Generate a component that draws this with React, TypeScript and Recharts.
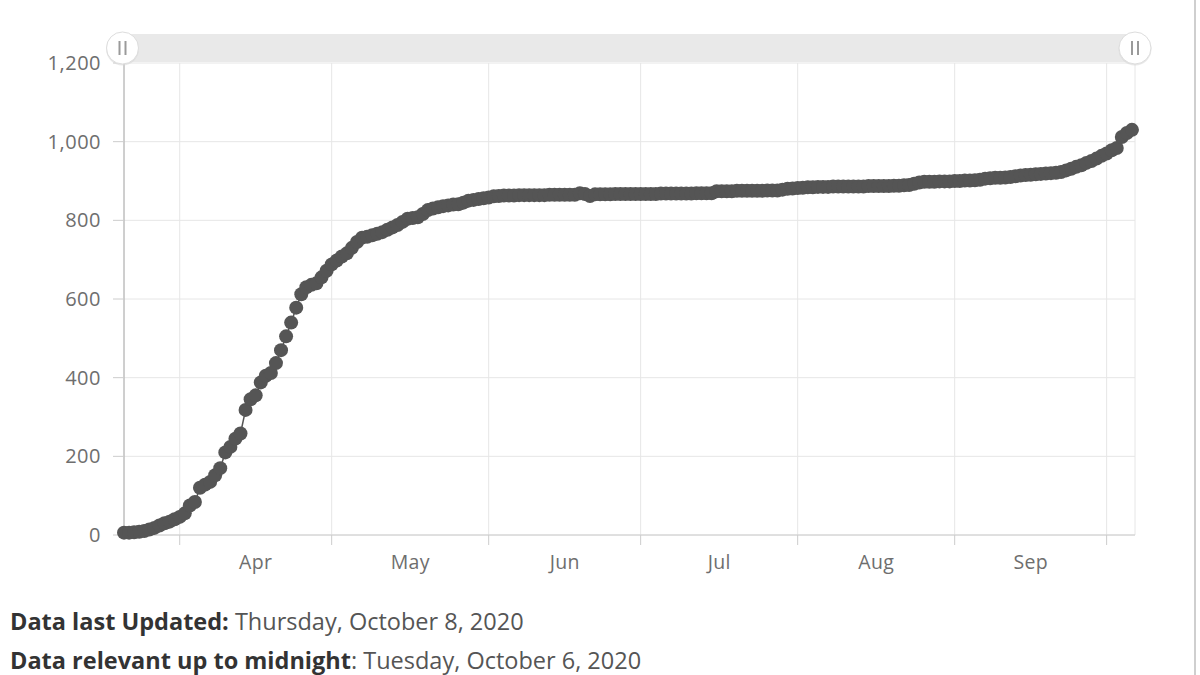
import React from "react";
import { LineChart, Line, XAxis, YAxis, CartesianGrid } from "recharts";

// day offsets are counted from Apr 1; the series starts on Mar 21
const firstDay = -11;

const marchValues = [6, 6, 7, 8, 10, 14, 18, 24, 30, 34, 40];
const aprilValues = [
  46, 55, 75, 84, 120, 128, 135, 152, 170, 210, 224, 245, 258, 318, 345,
  355, 388, 405, 412, 437, 470, 505, 540, 578, 612, 630, 636, 640, 655, 672,
];
const mayValues = [
  688, 698, 708, 716, 730, 745, 756, 758, 762, 766, 770, 776, 782, 788, 796,
  804, 806, 808, 816, 826, 830, 833, 836, 838, 840, 841, 845, 850, 852, 854, 856,
];
const juneValues = [
  858, 861, 862, 863, 863, 863, 864, 864, 864, 864, 864, 864, 865, 865, 865,
  865, 865, 865, 869, 867, 862, 866, 866, 866, 866, 867, 867, 867, 867, 867,
];
const julyValues = [
  867, 867, 867, 867, 868, 868, 868, 868, 868, 868, 868, 869, 869, 869, 869,
  874, 874, 874, 874, 875, 875, 875, 875, 875, 875, 876, 876, 876, 878, 880, 881,
];
const augustValues = [
  882, 883, 884, 884, 885, 885, 885, 886, 886, 886, 886, 886, 886, 886, 887,
  887, 887, 887, 887, 888, 888, 889, 890, 893, 896, 898, 898, 898, 899, 899, 899,
];
const septemberValues = [
  900, 900, 901, 901, 902, 903, 906, 907, 908, 908, 909, 910, 912, 914, 915,
  916, 917, 918, 919, 920, 921, 923, 927, 931, 936, 940, 946, 951, 957, 964,
];
const octoberValues = [970, 978, 984, 1012, 1022, 1030];

const monthStarts = [0, 30, 61, 91, 122, 153, 183];
const monthMids = [15, 45.5, 76, 106.5, 137.5, 168];
const monthLabels = ["Apr", "May", "Jun", "Jul", "Aug", "Sep"];
const yTicks = [0, 200, 400, 600, 800, 1000, 1200];

const allValues = [
  ...marchValues,
  ...aprilValues,
  ...mayValues,
  ...juneValues,
  ...julyValues,
  ...augustValues,
  ...septemberValues,
  ...octoberValues,
];

const data = allValues.map((v, i) => ({ day: firstDay + i, total: v }));

const font = "'Open Sans', Lato, sans-serif";
const lineColor = "#555555";

function Handle({ cx, cy }: { cx: number; cy: number }) {
  return (
    <g>
      <circle cx={cx} cy={cy + 1} r={16.5} fill="#d8d8d8" opacity={0.6} />
      <circle cx={cx} cy={cy} r={16} fill="#ffffff" stroke="#dddddd" />
      <line x1={cx - 3} x2={cx - 3} y1={cy - 7} y2={cy + 7} stroke="#9a9a9a" strokeWidth={2} />
      <line x1={cx + 3} x2={cx + 3} y1={cy - 7} y2={cy + 7} stroke="#9a9a9a" strokeWidth={2} />
    </g>
  );
}

export default function App() {
  return (
    <div
      style={{
        position: "fixed",
        left: 0,
        top: 0,
        width: 1200,
        height: 675,
        background: "#fff",
        overflow: "hidden",
        fontFamily: font,
      }}
    >
      <LineChart
        width={1200}
        height={600}
        data={data}
        margin={{ top: 63, right: 65, left: 0, bottom: 13 }}
      >
        <CartesianGrid stroke="#e6e6e6" />
        <XAxis
          type="number"
          dataKey="day"
          domain={[-11, 188.6]}
          ticks={monthStarts}
          interval={0}
          tickFormatter={() => ""}
          tickSize={10}
          height={12}
          stroke="#cccccc"
          tickLine={{ stroke: "#cccccc" }}
        />
        <XAxis
          xAxisId="labels"
          type="number"
          dataKey="day"
          domain={[-11, 188.6]}
          ticks={monthMids}
          interval={0}
          axisLine={false}
          tickLine={false}
          tickSize={0}
          tickMargin={8}
          height={40}
          tickFormatter={(v: number) => monthLabels[monthMids.indexOf(v)]}
          tick={{ fill: "#6e6e6e", fontSize: 19.5, fontFamily: font, letterSpacing: 0.3 }}
        />
        <YAxis
          type="number"
          domain={[0, 1200]}
          ticks={yTicks}
          interval={0}
          width={124}
          tickSize={11}
          tickMargin={12}
          stroke="#aaaaaa"
          tickLine={{ stroke: "#cccccc" }}
          tickFormatter={(v: number) => v.toLocaleString("en-US")}
          tick={{ fill: "#6e6e6e", fontSize: 20, fontFamily: font, letterSpacing: 0.5 }}
        />
        <Line
          type="linear"
          dataKey="total"
          stroke={lineColor}
          strokeWidth={1.5}
          dot={{ r: 7, fill: lineColor, stroke: lineColor, strokeWidth: 0 }}
          isAnimationActive={false}
        />
      </LineChart>

      <svg
        width={1200}
        height={675}
        style={{ position: "absolute", left: 0, top: 0, pointerEvents: "none" }}
      >
        <rect x={124} y={34} width={1011} height={28} fill="#e9e9e9" />
        <Handle cx={122.5} cy={48} />
        <Handle cx={1135} cy={48} />
        <rect x={1194} y={0} width={2} height={675} fill="#cfcfcf" />
      </svg>

      <div
        style={{
          position: "absolute",
          left: 10,
          top: 606,
          fontSize: 23.5,
          lineHeight: "30px",
          color: "#555",
          whiteSpace: "nowrap",
        }}
      >
        <div>
          <span style={{ fontWeight: 700, color: "#333" }}>Data last Updated:</span> Thursday, October 8, 2020
        </div>
        <div style={{ marginTop: 9 }}>
          <span style={{ fontWeight: 700, color: "#333" }}>Data relevant up to midnight</span>: Tuesday, October 6, 2020
        </div>
      </div>
    </div>
  );
}
